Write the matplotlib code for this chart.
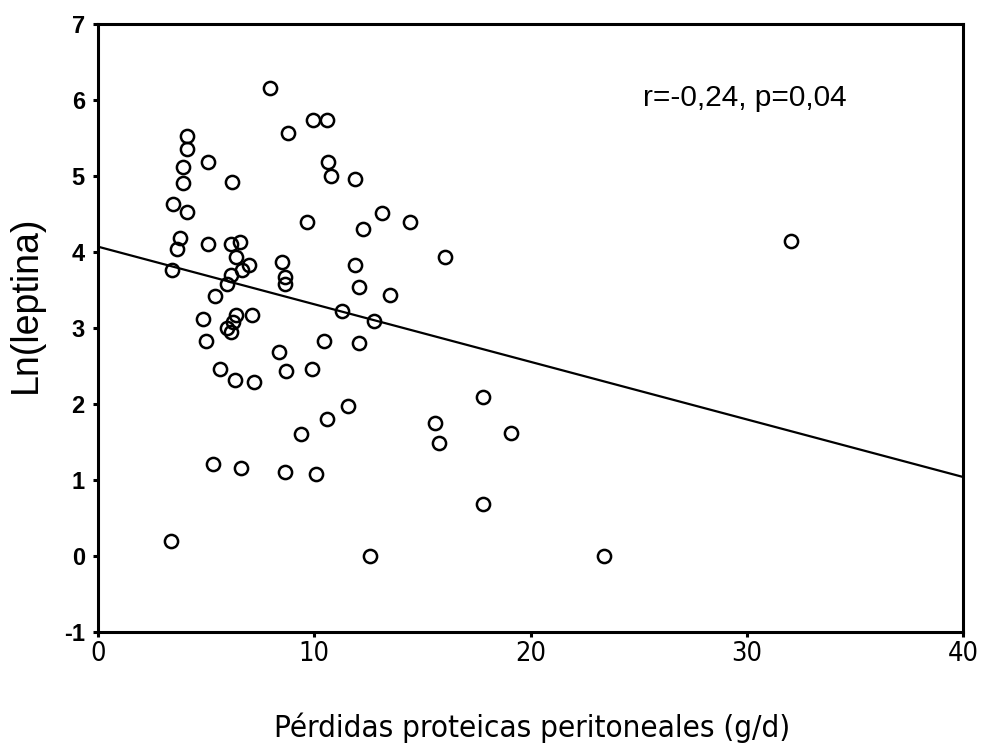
import matplotlib
matplotlib.use("Agg")
import matplotlib.pyplot as plt
from matplotlib import font_manager

# pérdidas proteicas peritoneales (g/d) frente a ln(leptina)
perdidas = [
    4.12, 4.12, 7.96, 9.95, 10.60, 8.80, 5.09, 10.65, 3.94, 3.94,
    6.20, 10.79, 11.90, 3.47, 4.12, 13.15, 14.44, 9.68, 12.27, 3.80,
    3.66, 5.09, 6.16, 6.57, 32.04, 16.06, 6.39, 6.99, 6.67, 3.43,
    8.52, 11.90, 8.66, 8.66, 6.16, 5.97, 12.08, 5.42, 13.52, 11.30,
    12.78, 4.86, 6.39, 7.13, 6.25, 5.97, 6.16, 5.00, 10.46, 12.08,
    8.38, 5.65, 9.91, 8.70, 6.34, 7.22, 17.82, 11.57, 10.60, 15.56,
    9.40, 19.12, 15.79, 5.32, 6.62, 8.66, 10.09, 17.82, 3.38, 12.59,
    23.38,
]
ln_leptina = [
    5.53, 5.36, 6.16, 5.74, 5.74, 5.57, 5.18, 5.18, 5.12, 4.91,
    4.92, 5.00, 4.96, 4.63, 4.53, 4.51, 4.39, 4.39, 4.30, 4.18,
    4.04, 4.11, 4.11, 4.13, 4.14, 3.93, 3.93, 3.83, 3.76, 3.76,
    3.87, 3.83, 3.67, 3.58, 3.70, 3.58, 3.54, 3.42, 3.43, 3.22,
    3.09, 3.12, 3.17, 3.17, 3.08, 3.00, 2.95, 2.83, 2.83, 2.80,
    2.68, 2.46, 2.46, 2.43, 2.32, 2.29, 2.09, 1.97, 1.80, 1.75,
    1.61, 1.62, 1.49, 1.21, 1.16, 1.11, 1.08, 0.68, 0.20, 0.00,
    0.00,
]

# recta de regresión (extremos en x=0 y x=40)
recta_x = [0, 40]
recta_y = [4.07, 1.04]

xticks = [0, 10, 20, 30, 40]
yticks = [-1, 0, 1, 2, 3, 4, 5, 6, 7]

# una fuente estrecha para el eje x, si hay alguna instalada
estrecha = None
for f in font_manager.fontManager.ttflist:
    nombre_fichero = f.fname.lower()
    if ("narrow" in nombre_fichero or "condensed" in nombre_fichero) and "bold" not in nombre_fichero \
            and "oblique" not in nombre_fichero and "italic" not in nombre_fichero:
        estrecha = f
        break

if estrecha is not None:
    fuente_x = dict(fontproperties=font_manager.FontProperties(fname=estrecha.fname))
    tam_ticks_x, tam_titulo_x = 19.5, 22.5
else:
    fuente_x = dict(fontfamily="Liberation Sans")
    tam_ticks_x, tam_titulo_x = 19, 21

plt.rcParams["font.family"] = ["Liberation Sans", "DejaVu Sans"]

fig = plt.figure(figsize=(9.83, 7.47), dpi=100)
ax = fig.add_axes([0.0997, 0.1539, 0.88, 0.814])

ax.plot(recta_x, recta_y, color="black", linewidth=1.6, zorder=2)
ax.plot(perdidas, ln_leptina, linestyle="none", marker="o", markersize=9.5,
        markerfacecolor="none", markeredgecolor="black", markeredgewidth=1.8, zorder=3)

ax.set_xlim(0, 40)
ax.set_ylim(-1, 7)
ax.set_xticks(xticks)
ax.set_yticks(yticks)
ax.set_xticklabels([str(t) for t in xticks])
for etiqueta in ax.get_xticklabels():
    if estrecha is not None:
        etiqueta.set_fontproperties(font_manager.FontProperties(fname=estrecha.fname))
    etiqueta.set_fontsize(tam_ticks_x)
ax.set_yticklabels([str(t) for t in yticks], fontsize=17, fontweight="bold")
ax.tick_params(axis="both", direction="out", length=3.5, width=2.2, color="black")
ax.tick_params(axis="y", pad=6)
ax.tick_params(axis="x", pad=3)

for lado in ax.spines.values():
    lado.set_linewidth(2.2)
    lado.set_color("black")

ax.text(25.2, 6.02, "r=-0,24, p=0,04", fontsize=21.5, ha="left", va="center")

fig.text(0.0265, 0.593, "Ln(leptina)", rotation=90, fontsize=27,
         ha="center", va="center")
titulo_x = fig.text(0.541, 0.006, "Pérdidas proteicas peritoneales (g/d)", ha="center", va="bottom",
                    **fuente_x)
titulo_x.set_fontsize(tam_titulo_x)

fig.savefig("out.png", dpi=100, facecolor="white")
